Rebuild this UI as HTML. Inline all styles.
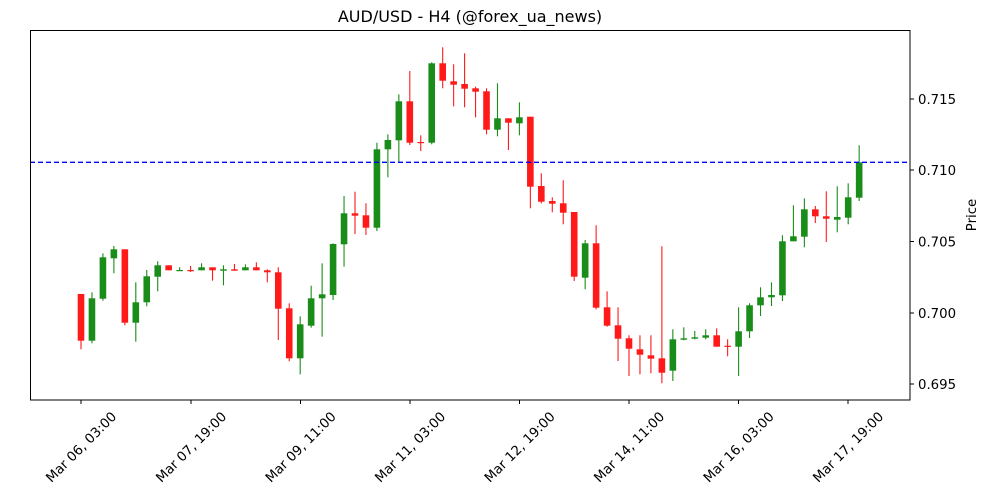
<!DOCTYPE html>
<html><head><meta charset="utf-8"><style>
html,body{margin:0;padding:0;background:#fff;}
svg{display:block;font-family:"DejaVu Sans","Liberation Sans",sans-serif;}
</style></head><body>
<svg id="s" width="1000" height="500" viewBox="0 0 1000 500" xmlns="http://www.w3.org/2000/svg">
<rect width="1000" height="500" fill="#fff"/>
<text x="470" y="22" font-size="16" text-anchor="middle" fill="#000">AUD/USD - H4 (@forex_ua_news)</text>
<g id="c"></g>
<line x1="30" y1="162.3" x2="910" y2="162.3" stroke="#0000ff" stroke-width="1.3" stroke-dasharray="5,3"/>
<rect x="30.5" y="30.5" width="879.5" height="369.5" fill="none" stroke="#000" stroke-width="1"/>
<g stroke="#000" stroke-width="1">
<line x1="910" y1="99" x2="914" y2="99"/><line x1="910" y1="170" x2="914" y2="170"/><line x1="910" y1="241.5" x2="914" y2="241.5"/><line x1="910" y1="313" x2="914" y2="313"/><line x1="910" y1="384" x2="914" y2="384"/>
<line x1="81" y1="400" x2="81" y2="404"/><line x1="191" y1="400" x2="191" y2="404"/><line x1="300.5" y1="400" x2="300.5" y2="404"/><line x1="410" y1="400" x2="410" y2="404"/><line x1="519.5" y1="400" x2="519.5" y2="404"/><line x1="629" y1="400" x2="629" y2="404"/><line x1="738.5" y1="400" x2="738.5" y2="404"/><line x1="848" y1="400" x2="848" y2="404"/>
</g>
<g font-size="13.3" fill="#000">
<text x="918" y="104">0.715</text><text x="918" y="175">0.710</text><text x="918" y="246.5">0.705</text><text x="918" y="318">0.700</text><text x="918" y="389">0.695</text>
</g>
<text transform="translate(976,215) rotate(-90)" font-size="13.3" text-anchor="middle">Price</text>
<g font-size="13.3" text-anchor="middle">
<text transform="translate(81,447) rotate(-45)" dy="0.35em">Mar 06, 03:00</text>
<text transform="translate(191,447) rotate(-45)" dy="0.35em">Mar 07, 19:00</text>
<text transform="translate(300.5,447) rotate(-45)" dy="0.35em">Mar 09, 11:00</text>
<text transform="translate(410,447) rotate(-45)" dy="0.35em">Mar 11, 03:00</text>
<text transform="translate(519.5,447) rotate(-45)" dy="0.35em">Mar 12, 19:00</text>
<text transform="translate(629,447) rotate(-45)" dy="0.35em">Mar 14, 11:00</text>
<text transform="translate(738.5,447) rotate(-45)" dy="0.35em">Mar 16, 03:00</text>
<text transform="translate(848,447) rotate(-45)" dy="0.35em">Mar 17, 19:00</text>
</g>
</svg>
<script>
var d=[
[0,294,340.7,294,349.3],[1,298.3,340.7,292.3,343.3],[1,257.3,298.7,253.3,300.7],[1,249.3,258.3,246,273.3],
[0,249.3,322.7,249.3,325.3],[1,302.3,322.7,282.3,341.7],[1,276.3,302.3,270,306.3],[1,265.3,276.7,261.3,291.3],
[0,265.3,270.3,265.3,270.3],[1,270,270.7,267.3,270.7],[0,270,270.7,266,272],[1,267.3,270.3,263.3,270.3],
[0,267.3,270.3,267.3,280.7],[1,269.3,270.7,265.3,285.3],[0,269.3,270.7,264,270.7],[1,267.3,270.3,264.3,270.3],
[0,267.3,270.3,262.3,270.3],[0,270.3,272.3,269.3,282.3],[0,272.3,308.7,267.3,340],[0,308.3,358.3,303.3,361.3],
[1,324.3,358.3,316.3,374.3],[1,298.3,325.7,285.7,327.7],[1,294.3,298.3,263.3,336.7],[1,244,295,243.3,300],
[1,213.3,244.3,196,266.7],[0,213.3,215.7,191.7,234],[0,215.3,227.7,203.3,235],[1,149.3,227.7,142.7,231],
[1,140,149.3,134.3,177.3],[1,101.3,140.3,94.3,162.3],[0,101.3,142.7,71,145],[0,142,142.7,135.3,151],
[1,63.3,142.7,62.3,144.3],[0,63.3,80.7,47.3,88.3],[0,81.3,84.7,64.3,106.3],[0,84,88.7,53.3,107.3],
[0,88.3,91.7,86.7,117.3],[0,91.3,129.7,88.3,134.3],[1,118.3,129.7,83.3,136.3],[0,118.3,122.7,118.3,150],
[1,117.3,123.3,102.3,135.3],[0,116.7,186.7,116.7,208.3],[0,186,201.7,173.3,203.3],[0,201,203.7,197.3,212.3],
[0,203.3,212.7,180.3,224.3],[0,212,276.7,212,281],[1,243.3,277.7,240,289.3],[0,243.3,307.7,225.3,309.3],
[0,307.3,325.7,291.3,326.7],[0,325.3,338.7,307.3,361],[0,338.3,348.7,335.3,376],[0,349.3,354.7,335.3,374.3],
[0,355.3,358.7,335.3,373.3],[0,358.3,372.7,246.3,383.3],[1,339.3,370.7,329.3,381],[1,338.3,339.7,327.3,340.3],
[1,337.3,338.7,331,339.3],[1,335.3,337.7,329.3,339.3],[0,335.3,346.7,328.3,346.7],[0,345.7,346.7,339.3,356.3],
[1,331.3,346.7,307.3,376],[1,305.3,331.3,303.3,338],[1,297.3,305.3,287.3,316],[1,295,297.3,282.3,306],
[1,241.3,295.3,235.3,301],[1,236.3,241.3,205.3,241.3],[1,209.3,236.7,198.3,247.3],[0,209.3,216.3,206,223],
[0,216.3,218.7,191.3,242],[1,217,219.7,186.3,232.3],[1,197.3,217.7,183.3,224.3],[1,162.3,197.7,145.3,201]
];
var g=document.getElementById('c'),h='';
d.forEach(function(c,i){
 var x=81+i*10.96,col=c[0]?'rgb(25,140,25)':'rgb(255,25,25)';
 h+='<line x1="'+x+'" y1="'+c[3]+'" x2="'+x+'" y2="'+c[4]+'" stroke="'+col+'" stroke-width="1.1"/>';
 var bh=Math.max(c[2]-c[1],1.2);
 h+='<rect x="'+(x-3.3)+'" y="'+c[1]+'" width="6.6" height="'+bh+'" fill="'+col+'"/>';
});
g.innerHTML=h;
</script>
</body></html>
